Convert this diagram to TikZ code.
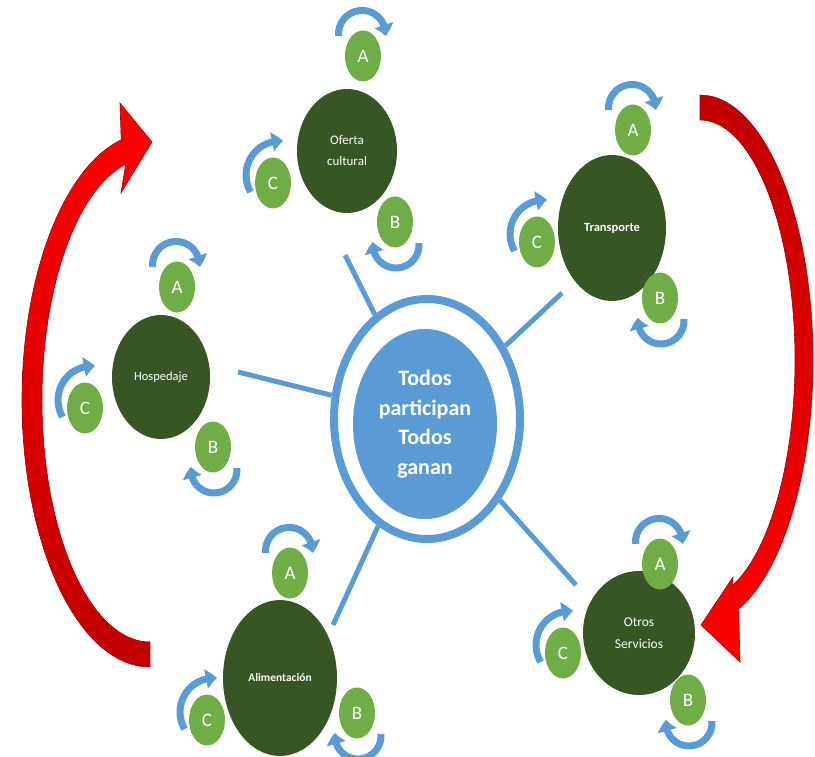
\documentclass[tikz,border=0pt]{standalone}
\usepackage{fontspec}
\setmainfont{Carlito}
\usetikzlibrary{shapes.geometric,arrows.meta,bending}
\definecolor{dgreen}{HTML}{375623}
\definecolor{lgreen}{HTML}{70AD47}
\definecolor{sblue}{HTML}{5B9BD5}
\definecolor{dred}{HTML}{C00000}
\definecolor{bred}{HTML}{FF0000}
\newcommand\arrA[1]{\draw[circarrow] ([shift={(-24.4,20)}]#1.center) arc[start angle=185,end angle=-5,radius=23.5];}
\newcommand\arrB[1]{\draw[circarrow] ([shift={(23.9,-21)}]#1.center) arc[start angle=5,end angle=-188,radius=23];}
\newcommand\arrC[1]{\draw[circarrow] ([shift={(-22.4,-9)}]#1.center) arc[start angle=210,end angle=85,radius=34];}
\begin{document}
\begin{tikzpicture}[x=1pt,y=1pt,
  big/.style={ellipse, fill=dgreen, text=white, inner sep=0pt, align=center},
  small/.style={ellipse, fill=lgreen, text=white, inner sep=0pt, minimum width=36pt, minimum height=51pt, font=\fontsize{19}{19}\selectfont},
  circarrow/.style={draw=sblue, line width=7pt, -{Triangle[width=19pt,length=11pt,bend]}},
  conn/.style={draw=sblue, line width=5pt},
  redarrow/.style={draw=dred!85!black, line width=0.6pt}]
\useasboundingbox (0,0) rectangle (815,-757);

% red arrows
\path[redarrow, top color=bred, bottom color=dred]
  (150,-667) arc[start angle=270,end angle=103,x radius=128,y radius=267]
  -- (120,-103) -- (152,-142) -- (121,-193) -- (125.7,-164.2)
  arc[start angle=103,end angle=270,x radius=108,y radius=242] -- cycle;
\path[redarrow, top color=dred, bottom color=bred]
  (700,-95) arc[start angle=90,end angle=-70,x radius=113,y radius=265]
  -- (740,-662) -- (701,-625) -- (733,-577) -- (732.5,-585.5)
  arc[start angle=-70,end angle=90,x radius=95,y radius=240] -- cycle;

% centre
\node[ellipse, draw=sblue, line width=8pt, minimum width=186pt, minimum height=240pt, inner sep=0pt] (ring) at (427,-419) {};
\node[ellipse, fill=sblue, text=white, inner sep=0pt, minimum width=144pt, minimum height=190pt, align=center, font=\fontsize{22}{29.5}\selectfont\bfseries] (core) at (425,-424) {Todos\\participan\\Todos\\ganan};

% connector free ends
\coordinate (e1) at (345,-255);
\coordinate (e2) at (562,-293);
\coordinate (e3) at (238,-372);
\coordinate (e4) at (333,-625);
\coordinate (e5) at (576,-585);
\draw[conn] (ring) -- (e1);
\draw[conn] (ring) -- (e2);
\draw[conn] (ring) -- (e3);
\draw[conn] (ring) -- (e4);
\draw[conn] (ring) -- (e5);

% Oferta cultural
\node[big, minimum width=100pt, minimum height=124pt, font=\fontsize{13}{21}\selectfont] (ofe) at (347,-151) {Oferta\\cultural};
\node[small] (ofeA) at (363,-56) {A};
\node[small] (ofeB) at (395,-222) {B};
\node[small] (ofeC) at (273,-183) {C};
\arrA{ofeA}\arrB{ofeB}\arrC{ofeC}

% Hospedaje
\node[big, minimum width=98pt, minimum height=124pt, font=\fontsize{12.5}{15}\selectfont] (hos) at (161,-377) {Hospedaje};
\node[small] (hosA) at (177,-287) {A};
\node[small] (hosB) at (213,-447) {B};
\node[small] (hosC) at (85,-408) {C};
\arrA{hosA}\arrB{hosB}\arrC{hosC}

% Transporte
\node[big, minimum width=108pt, minimum height=146pt, font=\fontsize{12.5}{15}\selectfont\bfseries] (tra) at (612,-228) {Transporte};
\node[small] (traA) at (633,-130) {A};
\node[small] (traB) at (660,-298) {B};
\node[small] (traC) at (537,-242) {C};
\arrA{traA}\arrB{traB}\arrC{traC}

% Alimentacion
\node[big, minimum width=114pt, minimum height=156pt, font=\fontsize{11.5}{15}\selectfont\bfseries] (ali) at (280,-678) {Alimentación};
\node[small] (aliA) at (290,-573) {A};
\node[small] (aliB) at (357,-713) {B};
\node[small] (aliC) at (207,-720) {C};
\arrA{aliA}\arrB{aliB}\arrC{aliC}

% Otros Servicios
\node[big, minimum width=112pt, minimum height=124pt, font=\fontsize{13.5}{22}\selectfont] (otr) at (639,-633) {Otros\\Servicios};
\node[small] (otrA) at (660,-564) {A};
\node[small] (otrB) at (688,-700) {B};
\node[small] (otrC) at (563,-653) {C};
\arrA{otrA}\arrB{otrB}\arrC{otrC}
\end{tikzpicture}
\end{document}
